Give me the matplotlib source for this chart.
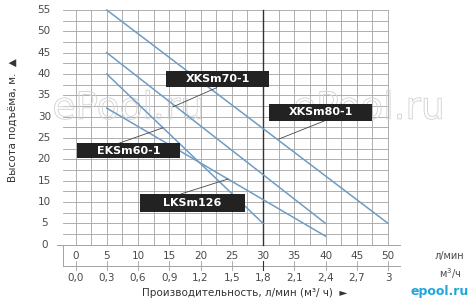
import matplotlib
matplotlib.use('Agg')
import matplotlib.pyplot as plt
import matplotlib.patheffects as pe
from matplotlib.patches import Rectangle

# pump curves: flow (l/min) -> head (m)
xk80_q = [5, 50]
xk80_h = [55, 5]
xk70_q = [5, 40]
xk70_h = [45, 5]
ek60_q = [5, 30]
ek60_h = [40, 5]
lk126_q = [5, 40]
lk126_h = [32, 2]

flow_ticks = [0, 5, 10, 15, 20, 25, 30, 35, 40, 45, 50]
m3h_labels = ['0,0', '0,3', '0,6', '0,9', '1,2', '1,5', '1,8', '2,1', '2,4', '2,7', '3']
head_ticks = [0, 5, 10, 15, 20, 25, 30, 35, 40, 45, 50, 55]

# label boxes: text, (x0, x1, y0, y1) in data units, leader (x, y) pairs
labels = [
    ('XKSm70-1', (14.5, 31.0, 36.9, 40.7), [(15.6, 22.6), (32.3, 36.8)]),
    ('XKSm80-1', (31.0, 47.5, 29.1, 33.0), [(32.6, 39.8), (24.8, 29.0)]),
    ('EKSm60-1', (0.2, 16.7, 20.3, 23.8), [(7.0, 14.0), (23.8, 27.4)]),
    ('LKSm126', (10.3, 27.1, 7.7, 11.8), [(16.9, 24.4), (11.9, 15.4)]),
]

W, H = 476, 299
fig = plt.figure(figsize=(W / 100, H / 100), dpi=100)
fig.patch.set_facecolor('white')
x0px, x1px, y0px, y1px = 75.5, 388.0, 244.7, 10.0
ax = fig.add_axes([x0px / W, (H - y0px) / H, (x1px - x0px) / W, (y0px - y1px) / H])
ax.set_xlim(0, 50)
ax.set_ylim(0, 55)
ax.axis('off')

grid_c = '#a2a2a2'
txt_c = '#4a4a4a'

# grid
for i in range(21):
    x = i * 2.5
    if x == 30:
        continue
    ax.plot([x, x], [0, 55], color=grid_c, lw=0.6, clip_on=False, zorder=1)
for j in range(1, 23):
    y = j * 2.5
    ax.plot([-2, 50], [y, y], color=grid_c, lw=0.6, clip_on=False, zorder=1)
ax.plot([30, 30], [0, 55], color='#333333', lw=1.0, clip_on=False, zorder=2)

# base line and lower frame
ax.plot([-3, 51.9], [0, 0], color=grid_c, lw=0.7, clip_on=False, zorder=1)
ax.plot([-2, -2], [0, -5], color=grid_c, lw=0.7, clip_on=False)
ax.plot([-2, 51.9], [-5, -5], color=grid_c, lw=0.7, clip_on=False)
for q in flow_ticks:
    c = '#333333' if q == 30 else grid_c
    ax.plot([q, q], [-3.9, -6.0], color=c, lw=0.8 if q == 30 else 0.6, clip_on=False)

# watermarks
for xw in [-3.7, 34.8]:
    ax.text(xw, 29.5, 'ePool.ru', fontsize=27, color='none', ha='left', va='baseline',
            path_effects=[pe.Stroke(linewidth=0.7, foreground='#d6d6d6')], zorder=3, clip_on=False)

# curves
curve_c = '#6f9cc4'
for q, h in [(xk80_q, xk80_h), (xk70_q, xk70_h), (ek60_q, ek60_h), (lk126_q, lk126_h)]:
    ax.plot(q, h, color=curve_c, lw=1.1, zorder=4, clip_on=False)

# labels with leaders
for name, (bx0, bx1, by0, by1), (lx, ly) in labels:
    ax.plot(lx, ly, color='#444444', lw=0.6, zorder=5, clip_on=False)
    ax.add_patch(Rectangle((bx0, by0), bx1 - bx0, by1 - by0, facecolor='#222222',
                           edgecolor='none', zorder=6, clip_on=False))
    ax.text((bx0 + bx1) / 2, (by0 + by1) / 2, name, color='white', fontsize=8,
            fontweight='bold', ha='center', va='center', zorder=7)

# tick labels
for h in head_ticks:
    ax.text(-5.0, h, str(h), fontsize=7.5, color=txt_c, ha='center', va='center', clip_on=False)
for q, m in zip(flow_ticks, m3h_labels):
    ax.text(q, -2.6, str(q), fontsize=7.5, color=txt_c, ha='center', va='center', clip_on=False)
    ax.text(q, -7.7, m, fontsize=7.5, color=txt_c, ha='center', va='center', clip_on=False)
ax.text(59.9, -2.6, 'л/мин', fontsize=7, color=txt_c, ha='center', va='center', clip_on=False)
ax.text(59.9, -6.7, 'м$^3$/ч', fontsize=7, color=txt_c, ha='center', va='center', clip_on=False)

ax.text(27.0, -11.4, 'Производительность, л/мин (м³/ ч)  ►', fontsize=7.5, color='#333333',
        ha='center', va='center', clip_on=False)
ax.text(-10.0, 29.2, 'Высота подъёма, м.  ▲', fontsize=7.5, color='#333333', rotation=90,
        ha='center', va='center', clip_on=False)

fig.text(440 / W, 1 - 292 / H, 'epool.ru', fontsize=9, fontweight='bold', color='#1ea6dc',
         ha='center', va='center')

fig.savefig('out.png', dpi=100)
